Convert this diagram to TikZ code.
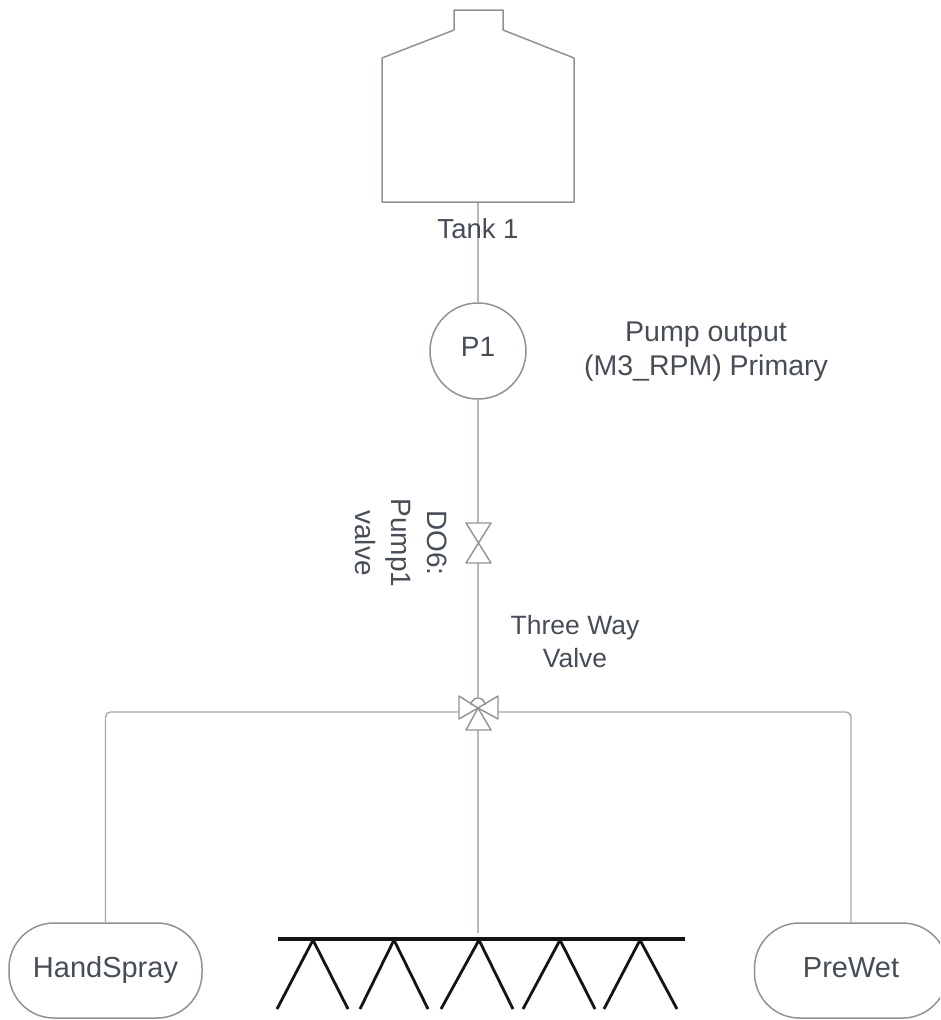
\documentclass[tikz,border=0pt]{standalone}
\usepackage{fontspec}
\setmainfont{Liberation Sans}
\definecolor{ln}{HTML}{B4B7BB}
\definecolor{lnh}{HTML}{A6A9AE}
\definecolor{lnd}{HTML}{8E9298}
\definecolor{tx}{HTML}{474D57}
\begin{document}
\begin{tikzpicture}[x=1pt,y=-1pt,
  pipe/.style={draw=ln,line width=1.4pt},
  pipeh/.style={draw=lnh,line width=1.4pt,rounded corners=5pt},
  shapeline/.style={draw=lnd,line width=1.5pt,line join=round},
  valveline/.style={shapeline,line width=1.4pt},
  boom/.style={draw=black!92,line width=3.4pt},
  leg/.style={draw=black!92,line width=2.8pt,line join=round},
  lab/.style={text=tx,font=\fontsize{29}{33.5}\selectfont,align=center,inner sep=0pt},
  box/.style={shapeline,rounded corners=45pt,minimum width=193pt,minimum height=95pt,inner sep=0pt,text=tx,font=\fontsize{29}{33}\selectfont,text height=17pt,text depth=4pt,anchor=center}]
\useasboundingbox (0,0) rectangle (940,1020);
\clip (0,0) rectangle (940,1020);
% coordinates
\coordinate (tankb) at (478,202);
\coordinate (v1t) at (478,523);
\coordinate (v1b) at (478,563);
\coordinate (v3top) at (478,697);
\coordinate (v3bot) at (478,730);
\coordinate (v3l) at (459,712);
\coordinate (v3r) at (498,712);
\coordinate (handc) at (105.5,712);
\coordinate (wetc) at (851,712);
\coordinate (boomc) at (478,933);
% nodes
\node[shapeline,circle,minimum size=96pt,inner sep=0pt,text=tx,font=\fontsize{28}{33}\selectfont,text height=16pt,text depth=5pt] (p1) at (478,351) {P1};
\node[box] (hand) at (105.5,970.5) {HandSpray};
\node[box] (wet) at (851,970.5) {PreWet};
% connectors
\draw[pipe] (tankb) -- (p1.north);
\draw[pipe] (p1.south) -- (v1t);
\draw[pipe] (v1b) -- (v3top);
\draw[pipe] (v3bot) -- (boomc);
\draw[pipeh] (v3l) -- (handc) -- (hand.north);
\draw[pipeh] (v3r) -- (wetc) -- (wet.north);
% tank
\draw[shapeline] (382,202) -- (382,58) -- (454,30) -- (454,10) -- (503,10) -- (503,30) -- (574,58) -- (574,202) -- cycle;
\node[lab,font=\fontsize{27.5}{33}\selectfont] (tanklabel) at (478,229) {Tank 1};
% valve 1
\draw[valveline] (466,523) -- (491,523) -- (466,563) -- (491,563) -- cycle;
% three-way valve
\draw[valveline] (478,708) -- (459,696) -- (459,719) -- cycle;
\draw[valveline] (478,708) -- (498,696) -- (498,719) -- cycle;
\draw[valveline] (478,708) -- (466,730) -- (491,730) -- cycle;
\draw[valveline] (471,705) arc[start angle=180,end angle=0,radius=7pt];
% boom
\draw[boom] (278,939) -- (685,939);
\foreach \l/\a/\r in {277/313/348,360/394/428,441/479/513,523/560/595,604/640/677}
  \draw[leg] (\l,1009) -- (\a,940) -- (\r,1009);
% labels
\node[lab,font=\fontsize{28.5}{34}\selectfont] (pumplabel) at (706,352) {Pump output\\(M3\_RPM) Primary};
\node[lab,font=\fontsize{28}{36}\selectfont,rotate=-90] (dolabel) at (401,543) {DO6:\\Pump1\\valve};
\node[lab,font=\fontsize{26.5}{33}\selectfont] (threelabel) at (575,642) {Three Way\\Valve};
\end{tikzpicture}
\end{document}
